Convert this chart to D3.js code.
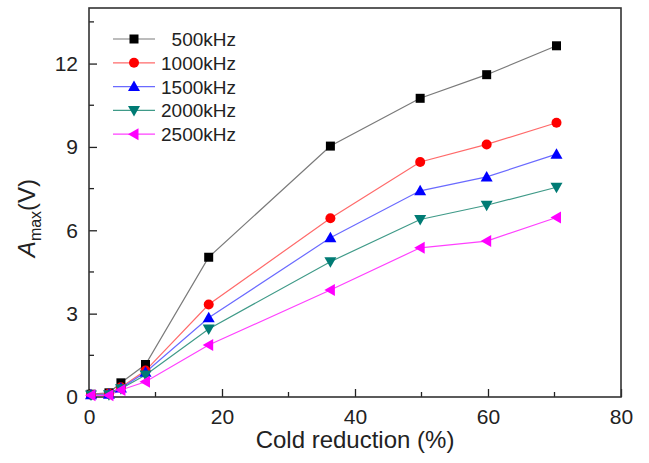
<!DOCTYPE html>
<html>
<head>
<meta charset="utf-8">
<script src="https://cdn.jsdelivr.net/npm/d3@7"></script>
<style>
  body { margin: 0; background: #fff; }
  svg { font-family: Arial, "Liberation Sans", sans-serif; }
</style>
</head>
<body>
<svg id="chart" width="649" height="463"></svg>
<script>
// cold reduction (%)
var reduction = [0.3, 3, 4.8, 8.5, 18, 36.3, 49.8, 59.8, 70.3];

var amp500  = [0.10, 0.15, 0.51, 1.17, 5.03, 9.03, 10.75, 11.60, 12.64];
var amp1000 = [0.08, 0.12, 0.35, 0.95, 3.33, 6.43, 8.46, 9.09, 9.87];
var amp1500 = [0.08, 0.10, 0.32, 0.89, 2.85, 5.73, 7.42, 7.92, 8.74];
var amp2000 = [0.07, 0.08, 0.30, 0.79, 2.45, 4.87, 6.39, 6.90, 7.55];
var amp2500 = [0.06, 0.06, 0.25, 0.55, 1.87, 3.85, 5.37, 5.61, 6.46];

var seriesNames = ['500kHz', '1000kHz', '1500kHz', '2000kHz', '2500kHz'];
var xTicks = [0, 20, 40, 60, 80];
var yTicks = [0, 3, 6, 9, 12];

var styles = [
  {line: '#7a7a7a', fill: '#000000', shape: 'square'},
  {line: '#ff6a6a', fill: '#ff0000', shape: 'circle'},
  {line: '#6a6aff', fill: '#0000ff', shape: 'up'},
  {line: '#3f9a88', fill: '#007b74', shape: 'down'},
  {line: '#ff40ff', fill: '#ff00ff', shape: 'left'}
];

var allSeries = [amp500, amp1000, amp1500, amp2000, amp2500];

var margin = {left: 89, right: 28, top: 8, bottom: 66};
var width = 649 - margin.left - margin.right;
var height = 463 - margin.top - margin.bottom;

var svg = d3.select('#chart');
var canvas = svg.append('g')
  .attr('transform', 'translate(' + margin.left + ',' + margin.top + ')');

var x = d3.scaleLinear().domain([0, 80]).range([0, width]);
var y = d3.scaleLinear().domain([0, 14]).range([height, 0]);

// marker path builder
function markerPath(shape) {
  var p = d3.path();
  if (shape === 'square') {
    p.rect(-4.5, -4.5, 9, 9);
  } else if (shape === 'circle') {
    p.arc(0, 0, 5, 0, 2 * Math.PI);
  } else if (shape === 'up') {
    p.moveTo(0, -6); p.lineTo(6, 4.5); p.lineTo(-6, 4.5); p.closePath();
  } else if (shape === 'down') {
    p.moveTo(0, 6); p.lineTo(6, -4.5); p.lineTo(-6, -4.5); p.closePath();
  } else {
    p.moveTo(-6, 0); p.lineTo(4.5, -6); p.lineTo(4.5, 6); p.closePath();
  }
  return p.toString();
}

// axes (ticks pointing inward)
var xAxis = d3.axisBottom(x).tickValues(xTicks).tickSize(-8).tickPadding(12);
var yAxis = d3.axisLeft(y).tickValues(yTicks).tickSize(-8).tickPadding(11);

var gx = canvas.append('g')
  .attr('transform', 'translate(0,' + height + ')')
  .call(xAxis);
var gy = canvas.append('g').call(yAxis);

// minor ticks
canvas.append('g').selectAll('line')
  .data([10, 30, 50, 70])
  .enter().append('line')
  .attr('x1', function(d) { return x(d); })
  .attr('x2', function(d) { return x(d); })
  .attr('y1', height).attr('y2', height - 5)
  .attr('stroke', '#222').attr('stroke-width', 1.3);

canvas.append('g').selectAll('line')
  .data([1.5, 4.5, 7.5, 10.5, 13.5])
  .enter().append('line')
  .attr('x1', 0).attr('x2', 5)
  .attr('y1', function(d) { return y(d); })
  .attr('y2', function(d) { return y(d); })
  .attr('stroke', '#222').attr('stroke-width', 1.3);

[gx, gy].forEach(function(g) {
  g.selectAll('.domain').remove();
  g.selectAll('.tick line').attr('stroke', '#222').attr('stroke-width', 1.3);
  g.selectAll('.tick text').attr('font-size', 21).attr('fill', '#222');
});

// frame
canvas.append('rect')
  .attr('width', width).attr('height', height)
  .attr('fill', 'none').attr('stroke', '#333').attr('stroke-width', 1.6);

// series
var line = d3.line()
  .x(function(d, i) { return x(reduction[i]); })
  .y(function(d) { return y(d); });

allSeries.forEach(function(vals, k) {
  var st = styles[k];
  canvas.append('path')
    .attr('d', line(vals))
    .attr('fill', 'none')
    .attr('stroke', st.line)
    .attr('stroke-width', 1.2);
});

allSeries.forEach(function(vals, k) {
  var st = styles[k];
  canvas.append('g').selectAll('path')
    .data(vals)
    .enter().append('path')
    .attr('d', markerPath(st.shape))
    .attr('transform', function(d, i) { return 'translate(' + x(reduction[i]) + ',' + y(d) + ')'; })
    .attr('fill', st.fill);
});

// legend
var legend = svg.append('g').attr('transform', 'translate(113,39)');
seriesNames.forEach(function(name, k) {
  var st = styles[k];
  var row = legend.append('g').attr('transform', 'translate(0,' + (k * 23.8) + ')');
  row.append('line')
    .attr('x1', 0).attr('x2', 42)
    .attr('stroke', st.line).attr('stroke-width', 1.2);
  row.append('path')
    .attr('d', markerPath(st.shape))
    .attr('transform', 'translate(21,0)')
    .attr('fill', st.fill);
  row.append('text')
    .attr('x', 123).attr('y', 7)
    .attr('text-anchor', 'end')
    .attr('font-size', 19)
    .attr('fill', '#222')
    .text(name);
});

// axis titles
svg.append('text')
  .attr('x', margin.left + width / 2)
  .attr('y', 448)
  .attr('text-anchor', 'middle')
  .attr('font-size', 24)
  .attr('fill', '#222')
  .text('Cold reduction (%)');

var yt = svg.append('text')
  .attr('transform', 'translate(35,218) rotate(-90)')
  .attr('text-anchor', 'middle')
  .attr('font-size', 24)
  .attr('fill', '#222');
yt.append('tspan').attr('font-style', 'italic').text('A');
yt.append('tspan').attr('font-size', 16).attr('dy', 6).text('max');
yt.append('tspan').attr('dy', -6).text('(V)');
</script>
</body>
</html>
